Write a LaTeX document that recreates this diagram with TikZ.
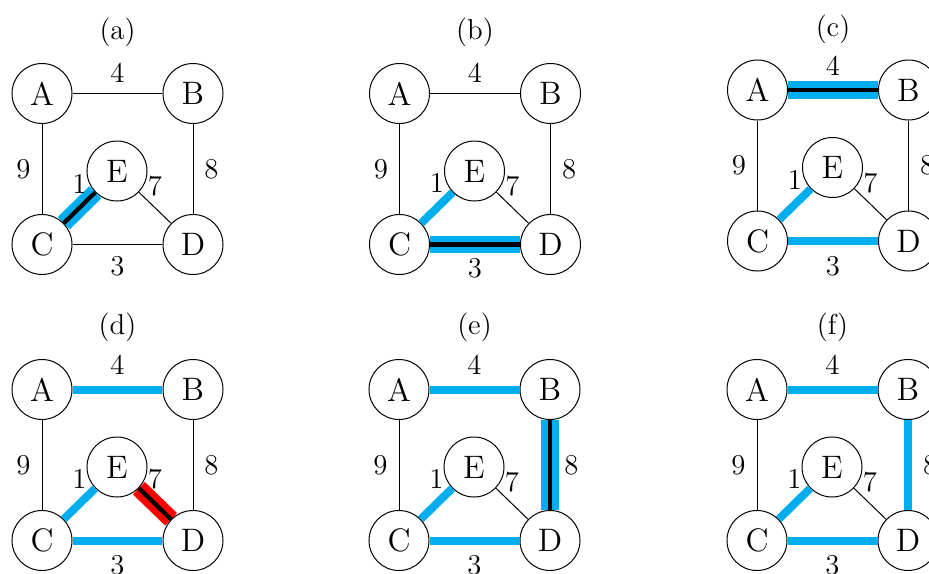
\documentclass[tikz,border=0pt]{standalone}
\usetikzlibrary{positioning}
\definecolor{treecyan}{HTML}{00AEEF}
\definecolor{rejectred}{HTML}{FF0000}
\tikzset{
    vertex/.style={circle, draw, line width=0.4pt, minimum size=24pt,
        inner sep=0pt, font=\fontsize{13}{15}\selectfont},
    plain/.style={line width=0.4pt},
    tree/.style={draw=treecyan, line width=3.2pt},
    current/.style={draw=treecyan, double=black, line width=2.6pt,
        double distance=1.7pt},
    rejected/.style={draw=rejectred, double=black, line width=2.6pt,
        double distance=1.7pt},
    lbl/.style={inner sep=4.4pt, font=\fontsize{11.5}{13}\selectfont},
    caption/.style={font=\fontsize{11.5}{13}\selectfont},
}

\begin{document}
\begin{tikzpicture}[x=0.4pt, y=-0.4pt]

\useasboundingbox (0,0) rectangle (929,574);
\clip (0,0) rectangle (929,574);

% ================================================================
%  (a)  first edge C--E
% ================================================================
\begin{scope}[shift={(42,93.5)}, name prefix=a-]
\node[caption] (cap) at (75.5,-61) {(a)};
\node[vertex] (A) at (0,0)       {A};
\node[vertex] (B) at (151,0)     {B};
\node[vertex] (C) at (0,151)     {C};
\node[vertex] (D) at (151,151)   {D};
\node[vertex] (E) at (75,77.5)   {E};

\draw[plain]   (A) -- node[lbl, above] {4} (B);
\draw[plain]   (A) -- node[lbl, left]  {9} (C);
\draw[plain]   (B) -- node[lbl, right] {8} (D);
\draw[plain]   (C) -- node[lbl, below] {3} (D);
\draw[current] (C) -- node[lbl, above] {1} (E);
\draw[plain]   (E) -- node[lbl, above] {7} (D);
\end{scope}

% ================================================================
%  (b)  edge C--D
% ================================================================
\begin{scope}[shift={(399.5,93.5)}, name prefix=b-]
\node[caption] (cap) at (75.5,-61) {(b)};
\node[vertex] (A) at (0,0)       {A};
\node[vertex] (B) at (151,0)     {B};
\node[vertex] (C) at (0,151)     {C};
\node[vertex] (D) at (151,151)   {D};
\node[vertex] (E) at (75,77.5)   {E};

\draw[plain]   (A) -- node[lbl, above] {4} (B);
\draw[plain]   (A) -- node[lbl, left]  {9} (C);
\draw[plain]   (B) -- node[lbl, right] {8} (D);
\draw[current] (C) -- node[lbl, below] {3} (D);
\draw[tree]    (C) -- node[lbl, above] {1} (E);
\draw[plain]   (E) -- node[lbl, above] {7} (D);
\end{scope}

% ================================================================
%  (c)  edge A--B
% ================================================================
\begin{scope}[shift={(757.5,90)}, name prefix=c-]
\node[caption] (cap) at (75.5,-61) {(c)};
\node[vertex] (A) at (0,0)       {A};
\node[vertex] (B) at (151,0)     {B};
\node[vertex] (C) at (0,151)     {C};
\node[vertex] (D) at (151,151)   {D};
\node[vertex] (E) at (75,77.5)   {E};

\draw[current] (A) -- node[lbl, above] {4} (B);
\draw[plain]   (A) -- node[lbl, left]  {9} (C);
\draw[plain]   (B) -- node[lbl, right] {8} (D);
\draw[tree]    (C) -- node[lbl, below] {3} (D);
\draw[tree]    (C) -- node[lbl, above] {1} (E);
\draw[plain]   (E) -- node[lbl, above] {7} (D);
\end{scope}

% ================================================================
%  (d)  edge E--D rejected
% ================================================================
\begin{scope}[shift={(42,389.5)}, name prefix=d-]
\node[caption] (cap) at (75.5,-62) {(d)};
\node[vertex] (A) at (0,0)       {A};
\node[vertex] (B) at (151,0)     {B};
\node[vertex] (C) at (0,151)     {C};
\node[vertex] (D) at (151,151)   {D};
\node[vertex] (E) at (75,77.5)   {E};

\draw[tree]     (A) -- node[lbl, above] {4} (B);
\draw[plain]    (A) -- node[lbl, left]  {9} (C);
\draw[plain]    (B) -- node[lbl, right] {8} (D);
\draw[tree]     (C) -- node[lbl, below] {3} (D);
\draw[tree]     (C) -- node[lbl, above] {1} (E);
\draw[rejected] (E) -- node[lbl, above] {7} (D);
\end{scope}

% ================================================================
%  (e)  edge B--D
% ================================================================
\begin{scope}[shift={(399,389.5)}, name prefix=e-]
\node[caption] (cap) at (75.5,-62) {(e)};
\node[vertex] (A) at (0,0)       {A};
\node[vertex] (B) at (151,0)     {B};
\node[vertex] (C) at (0,151)     {C};
\node[vertex] (D) at (151,151)   {D};
\node[vertex] (E) at (75,77.5)   {E};

\draw[tree]    (A) -- node[lbl, above] {4} (B);
\draw[plain]   (A) -- node[lbl, left]  {9} (C);
\draw[current] (B) -- node[lbl, right] {8} (D);
\draw[tree]    (C) -- node[lbl, below] {3} (D);
\draw[tree]    (C) -- node[lbl, above] {1} (E);
\draw[plain]   (E) -- node[lbl, above] {7} (D);
\end{scope}

% ================================================================
%  (f)  final tree
% ================================================================
\begin{scope}[shift={(757,389.5)}, name prefix=f-]
\node[caption] (cap) at (75.5,-62) {(f)};
\node[vertex] (A) at (0,0)       {A};
\node[vertex] (B) at (151,0)     {B};
\node[vertex] (C) at (0,151)     {C};
\node[vertex] (D) at (151,151)   {D};
\node[vertex] (E) at (75,77.5)   {E};

\draw[tree]  (A) -- node[lbl, above] {4} (B);
\draw[plain] (A) -- node[lbl, left]  {9} (C);
\draw[tree]  (B) -- node[lbl, right] {8} (D);
\draw[tree]  (C) -- node[lbl, below] {3} (D);
\draw[tree]  (C) -- node[lbl, above] {1} (E);
\draw[plain] (E) -- node[lbl, above] {7} (D);
\end{scope}

\end{tikzpicture}
\end{document}
